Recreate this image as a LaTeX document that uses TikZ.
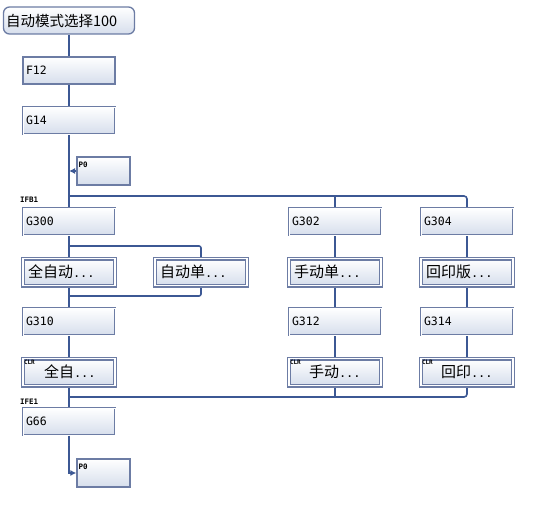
\documentclass[tikz,border=0pt]{standalone}
\usepackage{fontspec}
\newfontfamily\cjk{Noto Sans CJK SC}
\newfontfamily\mono{DejaVu Sans Mono}
\usetikzlibrary{arrows.meta}
\pgfdeclarelayer{bg}
\pgfsetlayers{bg,main}
\definecolor{bordc}{RGB}{108,124,164}
\definecolor{linec}{RGB}{60,88,148}
\definecolor{boxb}{RGB}{214,222,236}
\newcommand{\dts}{{\mono\fontsize{12}{14}\selectfont...}}
\begin{document}
\begin{tikzpicture}[x=1pt,y=-1pt,
  box/.style={rectangle, draw=bordc, line width=1.3pt, top color=white, bottom color=boxb,
    minimum width=92pt, minimum height=27pt, inner sep=0pt, text width=86pt, align=left,
    font=\mono\fontsize{11.5}{13}\selectfont},
  gbox/.style={box, double=white, double distance=0.6pt, line width=1pt},
  cbox/.style={box, double=white, double distance=1.2pt, line width=1.4pt, text width=82pt,
    font=\cjk\fontsize{15}{17}\selectfont},
  pbox/.style={box, minimum width=53pt, minimum height=28pt, text width=50pt, text depth=12pt,
    font=\mono\bfseries\fontsize{7.5}{8}\selectfont},
  tag/.style={font=\mono\bfseries\fontsize{7.5}{8}\selectfont, inner sep=0pt, anchor=south west},
  clr/.style={font=\mono\bfseries\fontsize{6}{6}\selectfont, inner sep=0pt, anchor=north west},
  conn/.style={draw=linec, line width=1.6pt},
  arr/.style={conn, -{Latex[length=6pt,width=6pt]}}
]
\useasboundingbox (0,0) rectangle (537,505);

\node[box, rounded corners=6pt, minimum width=131pt, text width=126pt,
  font=\cjk\fontsize{14.5}{16}\selectfont] (top) at (69,20.5) {自动模式选择100};
\node[box] (f12) at (69,70.5) {F12};
\node[gbox] (g14) at (69,120.5) {G14};
\node[pbox] (p0a) at (103.5,171) {P0};
\node[tag] (ifb) at (20,203) {IFB1};
\node[gbox] (g300) at (69,221.5) {G300};
\node[gbox] (g302) at (335,221.5) {G302};
\node[gbox] (g304) at (467,221.5) {G304};
\node[cbox] (q1) at (69,272) {全自动\dts};
\node[cbox] (q2) at (201,272) {自动单\dts};
\node[cbox] (q3) at (335,272) {手动单\dts};
\node[cbox] (q4) at (467,272) {回印版\dts};
\node[gbox] (g310) at (69,321.5) {G310};
\node[gbox] (g312) at (335,321.5) {G312};
\node[gbox] (g314) at (467,321.5) {G314};
\node[cbox] (c1) at (69,372) {\hspace*{16pt}全自\dts};
\node[cbox] (c2) at (335,372) {\hspace*{15pt}手动\dts};
\node[cbox] (c3) at (467,372) {\hspace*{15pt}回印\dts};
\node[clr] (c1t) at ([shift={(1.5,2)}]c1.north west) {CLR};
\node[clr] (c2t) at ([shift={(1.5,2)}]c2.north west) {CLR};
\node[clr] (c3t) at ([shift={(1.5,2)}]c3.north west) {CLR};
\node[tag] (ife) at (20,405) {IFE1};
\node[gbox] (g66) at (69,421.5) {G66};
\node[pbox] (p0b) at (103.5,473) {P0};

\coordinate (j1) at (69,196);
\coordinate (j2) at (69,246);
\coordinate (j3) at (69,296);
\coordinate (j4) at (69,397);

\begin{pgfonlayer}{bg}
\draw[conn] (top.south) -- (f12.north);
\draw[conn] (f12.south) -- (g14.north);
\draw[conn] (g14.south) -- (g300.north);
\draw[conn, rounded corners=3pt] (j1) -| (g304.north);
\draw[conn] (g302.north) -- (g302.north |- j1);
\draw[conn] (g300.south) -- (q1.north);
\draw[conn, rounded corners=2pt] (j2) -| (q2.north);
\draw[conn, rounded corners=2pt] (q2.south) |- (j3);
\draw[conn] (q1.south) -- (g310.north);
\draw[conn] (g310.south) -- (c1.north);
\draw[conn] (c1.south) -- (g66.north);
\draw[conn] (g302.south) -- (q3.north);
\draw[conn] (q3.south) -- (g312.north);
\draw[conn] (g312.south) -- (c2.north);
\draw[conn] (g304.south) -- (q4.north);
\draw[conn] (q4.south) -- (g314.north);
\draw[conn] (g314.south) -- (c3.north);
\draw[conn, rounded corners=3pt] (c3.south) |- (j4);
\draw[conn] (c2.south) -- (c2.south |- j4);
\end{pgfonlayer}
\draw[arr] (p0a.west) -- (p0a.west -| g14.south);
\draw[arr] (g66.south) |- (p0b.west);
\end{tikzpicture}
\end{document}
